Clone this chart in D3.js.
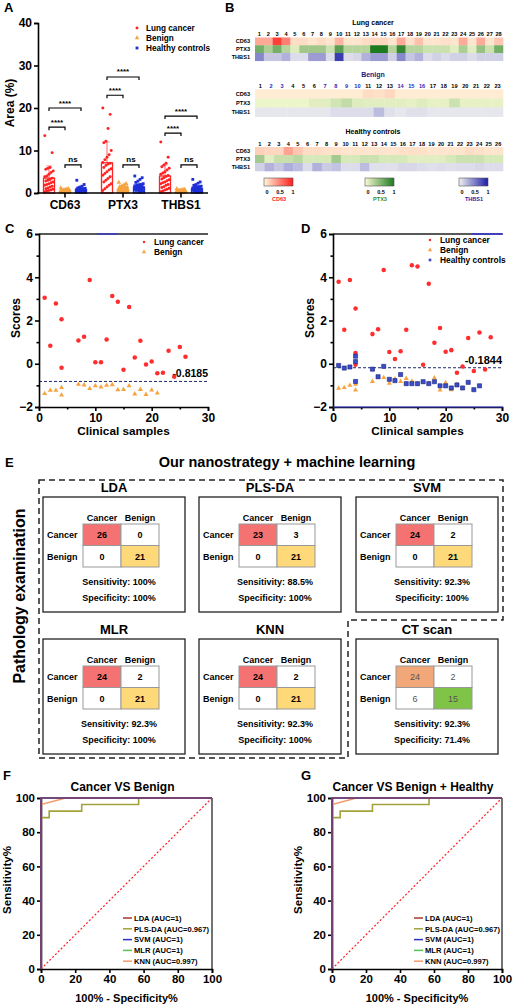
<!DOCTYPE html>
<html><head><meta charset="utf-8">
<script src="https://cdn.jsdelivr.net/npm/d3@7/dist/d3.min.js"></script>
<style>body{margin:0;background:#fff}svg{display:block;font-family:"Liberation Sans",Arial,Helvetica,sans-serif}</style>
</head><body><svg id="c" width="513" height="1006"></svg>
<script>
// ---------------- DATA ----------------
// Panel A
const aCategories = ["CD63", "PTX3", "THBS1"];
const aGroups = ["Lung cancer", "Benign", "Healthy controls"];
const aMeanLung = [3.5, 7.1, 4.0];
const aMeanBenign = [0.5, 0.9, 0.4];
const aMeanHealthy = [0.8, 1.4, 1.0];
const aSdLung = [2.9, 4.9, 2.6];
const aSdBenign = [0.3, 0.5, 0.3];
const aSdHealthy = [0.6, 0.9, 0.7];
const cd63Lung = [13.5, 9.5, 6.0, 5.8, 5.6, 5.2, 4.8, 4.4, 4.0, 3.8, 3.5, 3.2, 3.0, 2.8, 2.6, 2.4, 2.2, 2.0, 1.8, 1.6, 1.4, 1.2, 1.0, 0.9, 0.7, 0.6, 0.5, 0.3];
const cd63Benign = [1.2, 1.0, 0.9, 0.8, 0.7, 0.7, 0.6, 0.6, 0.5, 0.5, 0.5, 0.4, 0.4, 0.4, 0.3, 0.3, 0.3, 0.2, 0.2, 0.2, 0.2, 0.1, 0.1];
const cd63Healthy = [3.0, 2.0, 1.6, 1.4, 1.2, 1.1, 1.0, 1.0, 0.9, 0.9, 0.8, 0.8, 0.7, 0.7, 0.6, 0.6, 0.6, 0.5, 0.5, 0.4, 0.4, 0.4, 0.3, 0.3, 0.2, 0.2];
const ptx3Lung = [20.0, 18.5, 15.2, 12.2, 11.8, 10.0, 9.0, 8.4, 7.8, 7.2, 7.0, 6.8, 6.5, 6.0, 5.7, 5.4, 5.0, 4.6, 4.2, 3.8, 3.4, 3.0, 2.6, 2.2, 1.8, 1.4, 1.0, 0.6];
const ptx3Benign = [2.5, 2.2, 1.9, 1.7, 1.5, 1.4, 1.3, 1.2, 1.1, 1.0, 1.0, 0.9, 0.9, 0.8, 0.8, 0.7, 0.7, 0.6, 0.6, 0.5, 0.5, 0.4, 0.3];
const ptx3Healthy = [4.0, 3.6, 3.2, 2.8, 2.5, 2.2, 2.0, 1.9, 1.8, 1.7, 1.6, 1.5, 1.4, 1.3, 1.2, 1.1, 1.0, 1.0, 0.9, 0.8, 0.8, 0.7, 0.6, 0.5, 0.4, 0.3];
const thbs1Lung = [12.0, 8.4, 7.0, 6.6, 6.2, 5.8, 5.4, 5.0, 4.7, 4.4, 4.1, 3.9, 3.6, 3.3, 3.1, 2.9, 2.6, 2.4, 2.2, 2.0, 1.8, 1.5, 1.3, 1.1, 0.9, 0.7, 0.5, 0.3];
const thbs1Benign = [1.0, 0.9, 0.8, 0.7, 0.6, 0.6, 0.5, 0.5, 0.5, 0.4, 0.4, 0.4, 0.3, 0.3, 0.3, 0.3, 0.2, 0.2, 0.2, 0.2, 0.1, 0.1, 0.1];
const thbs1Healthy = [3.2, 2.6, 2.3, 2.0, 1.8, 1.6, 1.5, 1.4, 1.3, 1.2, 1.1, 1.0, 1.0, 0.9, 0.9, 0.8, 0.8, 0.7, 0.7, 0.6, 0.5, 0.5, 0.4, 0.3, 0.3, 0.2];
const aSigLabels = ["****", "****", "ns"];
const aSigCD63 = [15.5, 20.0, 6.6];
const aSigPTX3 = [23.0, 27.3, 6.6];
const aSigTHBS1 = [14.1, 18.1, 6.6];
const aYTicks = [0, 10, 20, 30, 40];

// Panel B heatmaps (normalised 0..1)
const hmRows = ["CD63", "PTX3", "THBS1"];
const lungCD63 = [0.35,0.35,0.85,0.55,0.12,0.12,0.08,0.12,0.08,0.3,0.08,0.08,0.12,0.15,0.15,0.08,0.35,0.1,0.25,0.08,0.08,0.1,0.08,0.35,0.08,0.35,0.08,0.22];
const lungPTX3 = [0.6,0.35,0.6,0.3,0.12,0.4,0.4,0.4,0.2,0.72,0.3,0.3,0.3,1.0,1.0,0.3,0.9,0.3,0.3,0.2,0.2,0.2,0.1,0.35,0.1,0.45,0.2,0.6];
const lungTHBS1 = [0.5,0.2,0.2,0.3,0.1,0.1,0.4,0.4,0.1,0.85,0.1,0.12,0.3,0.4,0.4,0.15,0.5,0.2,0.3,0.1,0.15,0.1,0.15,0.15,0.1,0.15,0.15,0.15];
const benignCD63 = [0.05,0.05,0.05,0.05,0.05,0.05,0.05,0.05,0.05,0.05,0.12,0.1,0.15,0.05,0.05,0.05,0.05,0.05,0.05,0.05,0.05,0.05,0.05];
const benignPTX3 = [0.05,0.05,0.05,0.05,0.05,0.1,0.1,0.18,0.25,0.12,0.1,0.1,0.1,0.1,0.08,0.12,0.08,0.08,0.2,0.08,0.08,0.08,0.08];
const benignTHBS1 = [0.05,0.05,0.05,0.05,0.05,0.05,0.05,0.1,0.1,0.1,0.1,0.25,0.08,0.05,0.08,0.08,0.05,0.05,0.05,0.05,0.05,0.05,0.05];
const healthyCD63 = [0.18,0.15,0.15,0.38,0.22,0.12,0.12,0.1,0.1,0.08,0.08,0.08,0.08,0.08,0.08,0.1,0.1,0.1,0.08,0.08,0.08,0.08,0.12,0.1,0.08,0.08];
const healthyPTX3 = [0.38,0.1,0.22,0.22,0.28,0.15,0.15,0.15,0.38,0.15,0.15,0.2,0.2,0.15,0.15,0.15,0.1,0.1,0.1,0.1,0.15,0.2,0.2,0.2,0.15,0.15];
const healthyTHBS1 = [0.15,0.3,0.2,0.32,0.25,0.1,0.3,0.18,0.22,0.1,0.1,0.25,0.08,0.08,0.08,0.12,0.12,0.1,0.08,0.1,0.08,0.1,0.1,0.12,0.1,0.1];
const benignBlueLabels = [2, 3, 7, 8, 9, 10, 14, 15, 16];
const colorbarTicks = ["0", "0.5", "1"];

// Panel C
const cLungX = [1,2,3,4,4,7,8,9,10,11,12,13,14,15,16,17,18,19,20,21,22,23,24,25,26];
const cLungY = [3.05,0.83,2.79,2.06,-0.19,1.08,1.25,3.87,0.07,0.07,1.12,3.13,2.87,-0.28,2.62,0.29,1.06,-0.04,0.1,-0.44,-0.42,0.6,-0.6,0.77,0.32];
const cBenignX = [1,2,3,4,4,7,8,9,10,11,12,13,14,15,16,17,18,19,20,21];
const cBenignY = [-1.38,-1.23,-1.23,-1.1,-1.45,-0.95,-0.98,-1.15,-1.02,-1.08,-1.0,-0.97,-1.2,-1.19,-1.02,-1.4,-1.19,-1.42,-1.22,-1.36];
const cThreshold = -0.8185;
// Panel D
const dLungX = [1,2,3,4,4,4,7,8,9,10,11,12,13,14,15,16,17,18,19,20,21,22,23,24,25,26,27,28];
const dLungY = [3.79,1.57,3.87,2.56,0.5,-0.05,1.37,1.59,4.33,0.54,0.22,0.58,1.57,4.55,4.5,-0.05,3.7,0.97,1.65,0.56,0.63,-0.42,-0.13,1.19,-0.33,1.45,-0.27,1.22];
const dBenignX = [1,2,3,4,4,7,8,9,10,11,12,13,14,15,16,17,18,19,20,21,22,23];
const dBenignY = [-1.14,-1.1,-1.0,-0.95,-1.22,-0.82,-0.64,-0.64,-0.9,-0.7,-0.82,-0.68,-0.8,-0.95,-0.86,-0.9,-0.66,-1.22,-0.88,-1.2,-0.95,-1.15];
const dHealthyX = [1,2,3,4,4,4,7,8,9,10,11,12,13,14,15,16,17,18,19,20,21,22,23,24,25,26];
const dHealthyY = [-0.08,-0.2,-0.15,0.35,0.1,-0.82,-0.25,-0.6,-0.12,-0.72,-0.78,-0.5,-0.92,-0.92,-0.92,-0.83,-0.92,-0.83,-1.02,-1.02,-1.12,-0.98,-1.12,-0.86,-1.2,-1.02];
const dThreshold = -0.1844;
const scatterXTicks = [0, 10, 20, 30];
const scatterYTicks = [-2, 0, 2, 4, 6];

// Panel E
const modelNames = ["LDA", "PLS-DA", "SVM", "MLR", "KNN", "CT scan"];
const cmTP = [26, 23, 24, 24, 24, 24];
const cmFN = [0, 3, 2, 2, 2, 2];
const cmFP = [0, 0, 0, 0, 0, 6];
const cmTN = [21, 21, 21, 21, 21, 15];
const sensLabels = ["100%", "88.5%", "92.3%", "92.3%", "92.3%", "92.3%"];
const specLabels = ["100%", "100%", "100%", "100%", "100%", "71.4%"];

// Panels F/G
const rocNames = ["LDA (AUC=1)", "PLS-DA (AUC=0.967)", "SVM (AUC=1)", "MLR (AUC=1)", "KNN (AUC=0.997)"];
const rocLDA = [[0,0],[0,100],[100,100]];
const rocPLSDA = [[0,0],[0,88.5],[4.8,88.5],[4.8,92.3],[23.8,92.3],[23.8,96.2],[57.1,96.2],[57.1,100],[100,100]];
const rocSVM = [[0,0],[0,100],[100,100]];
const rocMLR = [[0,0],[0,100],[100,100]];
const rocKNN = [[0,0],[0,96.2],[14.3,100],[100,100]];
const rocTicks = [0, 20, 40, 60, 80, 100];

// ---------------- DRAW ----------------
const svg = d3.select("#c");
svg.append("rect").attr("width", 513).attr("height", 1006).attr("fill", "#fff");

function T(x, y, s, size, anchor, opts) {
  opts = opts || {};
  const t = svg.append("text").attr("x", x).attr("y", y).text(s)
    .attr("font-size", size).attr("text-anchor", anchor || "start")
    .attr("font-weight", opts.weight || "bold").attr("fill", opts.fill || "#000");
  if (opts.rotate) t.attr("transform", `rotate(-90,${x},${y})`);
  return t;
}
function L(x1, y1, x2, y2, stroke, w, dash) {
  const l = svg.append("line").attr("x1", x1).attr("y1", y1).attr("x2", x2).attr("y2", y2)
    .attr("stroke", stroke || "#000").attr("stroke-width", w || 1);
  if (dash) l.attr("stroke-dasharray", dash);
  return l;
}
function styleAxis(g, fs) {
  g.selectAll("path,line").attr("stroke", "#000").attr("stroke-width", 1.6);
  g.selectAll("text").attr("font-size", fs).attr("font-weight", "bold").attr("fill", "#000")
    .attr("font-family", '"Liberation Sans",Arial,sans-serif');
}

// Panel letters
T(4, 12, "A", 13); T(225, 12, "B", 13); T(5, 233, "C", 13); T(301, 233, "D", 13);
T(5, 467, "E", 13); T(3, 780, "F", 13); T(301, 780, "G", 13);

// ===== Panel A =====
const colLung = "#ff2424", colBenign = "#f7a440", colHealthy = "#1f2fd6";
const xA = d3.scalePoint().domain(aCategories).range([36, 210]).padding(0.5);
const gA = d3.scaleBand().domain(aGroups).range([-24, 24]);
const yA = d3.scaleLinear().domain([0, 40]).range([193, 23]);
const aMeans = [aMeanLung, aMeanBenign, aMeanHealthy];
const aSds = [aSdLung, aSdBenign, aSdHealthy];
const aPoints = [[cd63Lung, cd63Benign, cd63Healthy], [ptx3Lung, ptx3Benign, ptx3Healthy], [thbs1Lung, thbs1Benign, thbs1Healthy]];
const aCols = [colLung, colBenign, colHealthy];
const aSyms = [d3.symbolCircle, d3.symbolTriangle, d3.symbolSquare];
const aSymSize = [7, 9, 8];
const aSig = [aSigCD63, aSigPTX3, aSigTHBS1];
const gx = (c, g) => xA(c) + gA(g) + gA.bandwidth() / 2;

aCategories.forEach((c, ci) => {
  aGroups.forEach((g, gi) => {
    const cx = gx(c, g);
    const m = aMeans[gi][ci], sd = aSds[gi][ci];
    L(cx, yA(m), cx, yA(m + sd), aCols[gi], 1.8).attr("stroke-opacity", 0.4);
    L(cx - 3, yA(m + sd), cx + 3, yA(m + sd), aCols[gi], 1).attr("stroke-opacity", 0.4);
    aPoints[ci][gi].forEach((v, i) => {
      const dx = (((i * 7) % 9) - 4) * 1.05;
      svg.append("path").attr("d", d3.symbol().type(aSyms[gi]).size(aSymSize[gi])())
        .attr("transform", `translate(${cx + dx},${yA(v)})`).attr("fill", aCols[gi]);
    });
    svg.append("rect").attr("x", cx - 5.5).attr("y", yA(m)).attr("width", 11)
      .attr("height", yA(0) - yA(m)).attr("fill", "none").attr("stroke", aCols[gi]).attr("stroke-width", 1.3);
  });
  const pairs = [[0, 1], [0, 2], [1, 2]];
  pairs.forEach((p, pi) => {
    const x1 = gx(c, aGroups[p[0]]), x2 = gx(c, aGroups[p[1]]);
    const yy = yA(aSig[ci][pi]);
    svg.append("path").attr("d", `M${x1},${yy + 3}V${yy}H${x2}V${yy + 3}`)
      .attr("fill", "none").attr("stroke", "#000").attr("stroke-width", 1.2);
    T((x1 + x2) / 2, yy - 2.5, aSigLabels[pi], 8, "middle");
  });
});
const axA = svg.append("g").attr("transform", "translate(38,0)").call(d3.axisLeft(yA).tickValues(aYTicks).tickSize(4).tickPadding(2));
styleAxis(axA, 12);
L(37.2, 193, 208, 193, "#000", 1.6);
aCategories.forEach(c => { L(xA(c), 193, xA(c), 197.5, "#000", 1.6); T(xA(c), 209, c, 12, "middle"); });
T(14, 103, "Area (%)", 12, "middle", { rotate: true });
aGroups.forEach((g, gi) => {
  const yy = 28 + gi * 10;
  svg.append("path").attr("d", d3.symbol().type(aSyms[gi]).size(aSymSize[gi])())
    .attr("transform", `translate(137,${yy})`).attr("fill", aCols[gi]);
  T(146, yy + 3, g, 8.2, "start");
});

// ===== Panel B =====
const cCD63 = d3.scaleLinear().domain([0, 1]).range(["#fff7dc", "#ff1c1c"]);
const cPTX3 = d3.scaleLinear().domain([0, 1]).range(["#f8fbd4", "#1e7a1e"]);
const cTHBS1 = d3.scaleLinear().domain([0, 1]).range(["#f1f1f1", "#1c1ca6"]);
const rowScales = [cCD63, cPTX3, cTHBS1];
function heatmap(title, titleY, numY, y0, rh, vals, blue) {
  const n = vals[0].length;
  const xb = d3.scaleBand().domain(d3.range(1, n + 1)).range([255, 503]);
  T(373, titleY, title, 7, "middle", { fill: title === "Benign" ? "#1a237e" : "#000" });
  d3.range(1, n + 1).forEach(k => {
    T(xb(k) + xb.bandwidth() / 2, numY, String(k), 5.6, "middle", { fill: blue && blue.includes(k) ? "#2a2ab8" : "#000" });
  });
  hmRows.forEach((r, ri) => {
    T(250, y0 + ri * rh + rh / 2 + 2, r, 5.6, "end");
    vals[ri].forEach((v, i) => {
      svg.append("rect").attr("x", xb(i + 1)).attr("y", y0 + ri * rh).attr("width", xb.bandwidth() + 0.3)
        .attr("height", rh + 0.3).attr("fill", rowScales[ri](v));
    });
  });
}
heatmap("Lung cancer", 24.5, 35.5, 37.5, 7.75, [lungCD63, lungPTX3, lungTHBS1], null);
heatmap("Benign", 76.5, 88, 89.3, 9.1, [benignCD63, benignPTX3, benignTHBS1], benignBlueLabels);
heatmap("Healthy controls", 133.5, 146, 147, 8, [healthyCD63, healthyPTX3, healthyTHBS1], null);
const defs = svg.append("defs");
const cbNames = ["CD63", "PTX3", "THBS1"];
const cbX = [264, 365, 459];
const cbLabelCol = ["#ff1c1c", "#2e8b2e", "#1c1ca6"];
cbNames.forEach((nm, i) => {
  const gr = defs.append("linearGradient").attr("id", "cb" + i);
  gr.append("stop").attr("offset", "0%").attr("stop-color", rowScales[i](0));
  gr.append("stop").attr("offset", "100%").attr("stop-color", rowScales[i](1));
  svg.append("rect").attr("x", cbX[i]).attr("y", 178).attr("width", 29).attr("height", 8)
    .attr("fill", `url(#cb${i})`).attr("stroke", "#555").attr("stroke-width", 0.6);
  const cs = d3.scaleLinear().domain([0, 1]).range([cbX[i] + 3, cbX[i] + 29]);
  colorbarTicks.forEach(t => T(cs(+t), 194, t, 5.5, "middle"));
  T(cbX[i] + 15, 200.5, nm, 5.5, "middle", { fill: cbLabelCol[i] });
});

// ===== Panels C & D =====
function scatterPanel(x0, x1, series, thr, legendX, lgY) {
  const xs = d3.scaleLinear().domain([0, 30]).range([x0, x1]);
  const ys = d3.scaleLinear().domain([-2, 6]).range([407, 234]);
  L(x0, 234, x1, 234, "#222", 1.4);
  L(x0, ys(thr), x1, ys(thr), "#1f2a6e", 1, "3,2");
  T(x1, ys(thr) - 4, String(thr), x0 > 300 ? 11 : 10.5, "end");
  series.forEach(s => {
    s.x.forEach((xv, i) => {
      svg.append("path").attr("d", d3.symbol().type(s.sym).size(s.size)())
        .attr("transform", `translate(${xs(xv)},${ys(s.y[i])})`)
        .attr("fill", s.col).attr("stroke", s.stroke || "none").attr("stroke-width", 0.6);
    });
  });
  const ax = svg.append("g").attr("transform", `translate(${x0},0)`)
    .call(d3.axisLeft(ys).tickValues(scatterYTicks).tickSize(4).tickPadding(2));
  styleAxis(ax, 12);
  svg.append("g").attr("transform", `translate(${x0},0)`)
    .call(d3.axisLeft(ys).tickValues([-1, 1, 3, 5]).tickSize(2.5).tickFormat(""))
    .call(g => g.select(".domain").remove()).call(g => styleAxis(g, 12));
  const bx = svg.append("g").attr("transform", "translate(0,407)")
    .call(d3.axisBottom(xs).tickValues(scatterXTicks).tickSize(4).tickPadding(2));
  styleAxis(bx, 12);
  svg.append("g").attr("transform", "translate(0,407)")
    .call(d3.axisBottom(xs).tickValues([5, 15, 25]).tickSize(2.5).tickFormat(""))
    .call(g => g.select(".domain").remove()).call(g => styleAxis(g, 12));
  T((x0 + x1) / 2, 435, "Clinical samples", 11.8, "middle");
  T(x0 - 19, 318, "Scores", 12, "middle", { rotate: true });
  series.forEach((s, i) => {
    const yy = lgY + i * 10;
    svg.append("path").attr("d", d3.symbol().type(s.sym).size(s.lsize)())
      .attr("transform", `translate(${legendX},${yy})`).attr("fill", s.col);
    T(legendX + 10, yy + 3, s.name, 8.4, "start");
  });
  return xs;
}
scatterPanel(39, 208, [
  { name: "Lung cancer", x: cLungX, y: cLungY, sym: d3.symbolCircle, size: 16, lsize: 5, col: "#ff2d2d" },
  { name: "Benign", x: cBenignX, y: cBenignY, sym: d3.symbolTriangle, size: 11, lsize: 8, col: "#f7a440" }
], cThreshold, 144, 242);
L(97, 234, 117, 234, "#3a3ad0", 1.4);
scatterPanel(333, 502, [
  { name: "Lung cancer", x: dLungX, y: dLungY, sym: d3.symbolCircle, size: 16, lsize: 5, col: "#ff2d2d" },
  { name: "Benign", x: dBenignX, y: dBenignY, sym: d3.symbolTriangle, size: 11, lsize: 8, col: "#f7a440" },
  { name: "Healthy controls", x: dHealthyX, y: dHealthyY, sym: d3.symbolSquare, size: 17, lsize: 7, col: "#3a4cc8", stroke: "#1a237e" }
], dThreshold, 430, 240);
L(472, 234, 503, 234, "#3a3ad0", 1.6);
L(333, 407, 503, 407, "#3a3ad0", 1);

// ===== Panel E =====
T(287, 467, "Our nanostrategy + machine learning", 14.5, "middle");
svg.append("path").attr("d", "M39,480H503V620H348V758H39Z").attr("fill", "none")
  .attr("stroke", "#222").attr("stroke-width", 1.5).attr("stroke-dasharray", "6,4");
T(25, 596, "Pathology examination", 16, "middle", { rotate: true });
const boxX = [43, 199, 356];
const boxY = [497, 639];
modelNames.forEach((nm, i) => {
  const bx0 = boxX[i % 3], by0 = boxY[Math.floor(i / 3)];
  const isCT = nm === "CT scan";
  T(bx0 + 71, by0 - 5, nm, 13, "middle");
  svg.append("rect").attr("x", bx0).attr("y", by0).attr("width", 142).attr("height", 115)
    .attr("fill", "none").attr("stroke", "#222").attr("stroke-width", 1.3);
  const cx = d3.scaleBand().domain(["Cancer", "Benign"]).range([bx0 + 40, bx0 + 116]);
  const ry = d3.scaleBand().domain(["Cancer", "Benign"]).range([by0 + 27, by0 + 70]);
  ["Cancer", "Benign"].forEach(k => {
    T(cx(k) + cx.bandwidth() / 2, by0 + 23.5, k, 9, "middle");
    T(bx0 + 4, ry(k) + ry.bandwidth() / 2 + 3.3, k, 9, "start");
  });
  const cells = [
    { r: "Cancer", c: "Cancer", v: cmTP[i], f: isCT ? "#f1a777" : "#f47272" },
    { r: "Cancer", c: "Benign", v: cmFN[i], f: "#fff" },
    { r: "Benign", c: "Cancer", v: cmFP[i], f: "#fff" },
    { r: "Benign", c: "Benign", v: cmTN[i], f: isCT ? "#80c447" : "#fdd97a" }
  ];
  cells.forEach(cl => {
    svg.append("rect").attr("x", cx(cl.c)).attr("y", ry(cl.r)).attr("width", cx.bandwidth())
      .attr("height", ry.bandwidth()).attr("fill", cl.f).attr("stroke", "#999").attr("stroke-width", 1);
    T(cx(cl.c) + cx.bandwidth() / 2, ry(cl.r) + ry.bandwidth() / 2 + 3.3, String(cl.v), 9, "middle",
      isCT ? { weight: "normal", fill: "#555" } : {});
  });
  T(bx0 + 76, by0 + 87.5, "Sensitivity: " + sensLabels[i], 9, "middle");
  T(bx0 + 76, by0 + 103.5, "Specificity: " + specLabels[i], 9, "middle");
});

// ===== Panels F & G =====
const rocCols = { "LDA": "#c0392b", "PLS-DA": "#a3a23c", "SVM": "#2f2fc4", "MLR": "#55c455", "KNN": "#f29a6c" };
const rocOrder = ["PLS-DA", "KNN", "MLR", "SVM", "LDA"];
const rocData = [rocPLSDA, rocKNN, rocMLR, rocSVM, rocLDA];
const legendCols = ["#a8392e", "#a3a23c", "#2f2fc4", "#55c455", "#f29a6c"];
function rocPanel(x0, x1, title, legX) {
  const xs = d3.scaleLinear().domain([0, 100]).range([x0, x1]);
  const ys = d3.scaleLinear().domain([0, 100]).range([969, 798]);
  T((x0 + x1) / 2 - 4, 791, title, 12, "middle");
  L(x1, 798, x1, 969, "#444", 1.5);
  const ax = svg.append("g").attr("transform", `translate(${x0},0)`)
    .call(d3.axisLeft(ys).tickValues(rocTicks).tickSize(4).tickPadding(2));
  styleAxis(ax, 11.5);
  const bx = svg.append("g").attr("transform", "translate(0,969)")
    .call(d3.axisBottom(xs).tickValues(rocTicks).tickSize(4).tickPadding(2));
  styleAxis(bx, 11.5);
  L(xs(0), ys(0), xs(100), ys(100), "#ff2020", 1.2, "2,2");
  const line = d3.line().x(d => xs(d[0])).y(d => ys(d[1]));
  rocData.forEach((d, i) => {
    const nm = rocOrder[i];
    svg.append("path").attr("d", line(d)).attr("fill", "none").attr("stroke", rocCols[nm])
      .attr("stroke-width", 1.6).attr("stroke-opacity", nm === "LDA" ? 0.55 : 1);
  });
  rocNames.forEach((nm, i) => {
    const yy = 918 + i * 10.8;
    L(legX, yy, legX + 9, yy, legendCols[i], 1.5);
    T(legX + 11, yy + 2.7, nm, 7.6, "start");
  });
  T((x0 + x1) / 2, 1002, "100% - Specificity%", 11, "middle");
  T(x0 - 30, 880, "Sensitivity%", 11.5, "middle", { rotate: true });
}
rocPanel(41, 212, "Cancer VS Benign", 123);
rocPanel(332, 502, "Cancer VS Benign + Healthy", 414);
</script></body></html>
